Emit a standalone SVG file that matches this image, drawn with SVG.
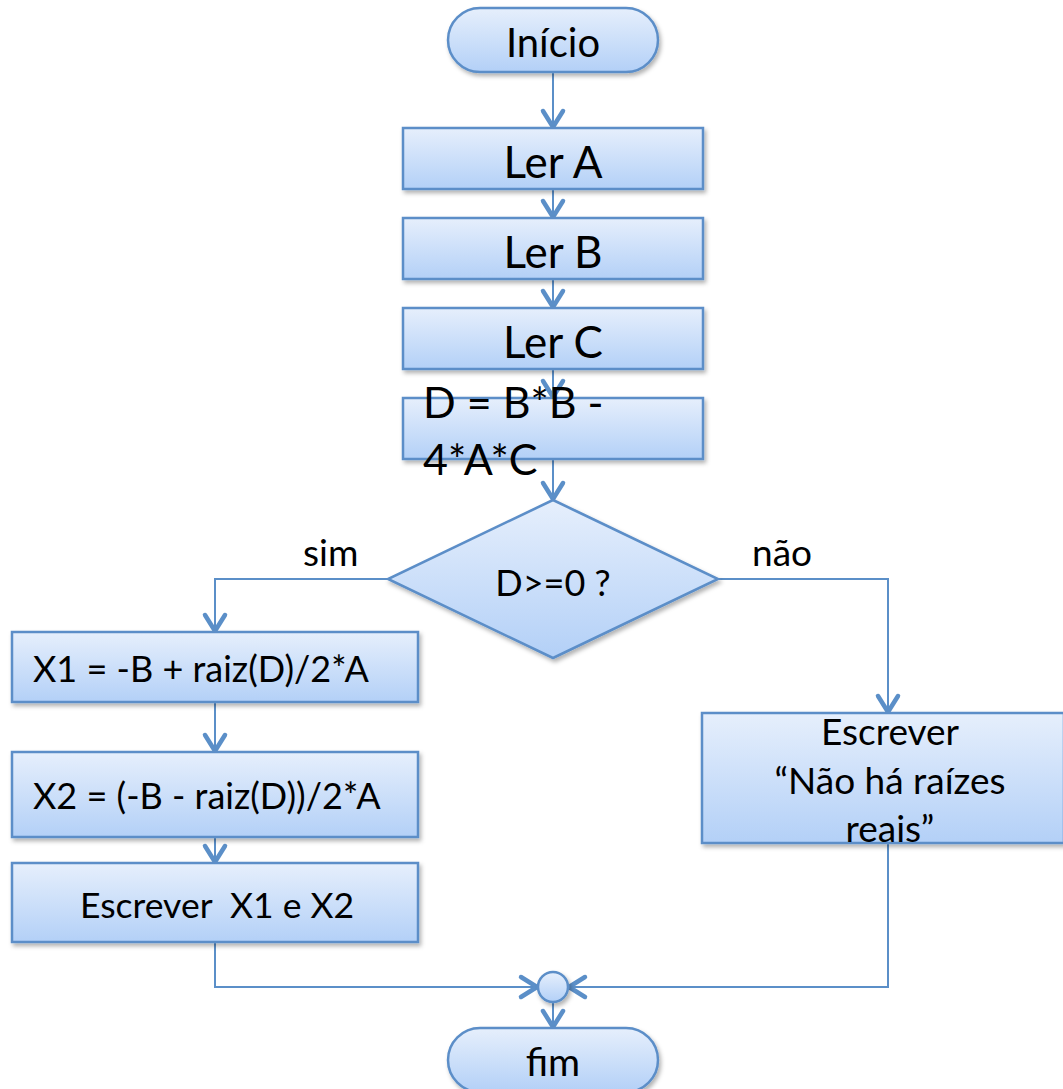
<svg xmlns="http://www.w3.org/2000/svg" width="1063" height="1089" viewBox="0 0 1063 1089">
<style>
.shape{fill:url(#g);stroke:#5b8ec8;stroke-width:2.5;filter:url(#sh)}
.t{font-family:Lato,"Open Sans","Liberation Sans",sans-serif;fill:#000}
.c{text-anchor:middle}
.conn{fill:none;stroke:#5b8fc8;stroke-width:2}
</style>
<defs>
<linearGradient id="g" x1="0" y1="0" x2="0" y2="1">
<stop offset="0" stop-color="#e6effc"/>
<stop offset="1" stop-color="#b3d0f7"/>
</linearGradient>
<filter id="sh" x="-10%" y="-10%" width="130%" height="140%">
<feDropShadow dx="2" dy="3" stdDeviation="2" flood-color="#000" flood-opacity="0.3"/>
</filter>
<marker id="ah" markerUnits="userSpaceOnUse" markerWidth="30" markerHeight="30" refX="0" refY="0" viewBox="-20 -15 25 30" orient="auto" overflow="visible">
<path d="M-17,-10 L-1,0 L-17,10" fill="none" stroke="#5b8fc8" stroke-width="4.5" stroke-linecap="round" stroke-linejoin="round"/>
</marker>
</defs>

<g id="connectors">
<path class="conn" d="M553,72 V128" marker-end="url(#ah)"/>
<path class="conn" d="M553,189 V218" marker-end="url(#ah)"/>
<path class="conn" d="M553,279 V308" marker-end="url(#ah)"/>
<path class="conn" d="M553,369 V398" marker-end="url(#ah)"/>
<path class="conn" d="M553,459 V500" marker-end="url(#ah)"/>
<path class="conn" d="M388,579 H215 V632" marker-end="url(#ah)"/>
<path class="conn" d="M718,579 H888 V713" marker-end="url(#ah)"/>
<path class="conn" d="M215,702 V752" marker-end="url(#ah)"/>
<path class="conn" d="M215,837 V863" marker-end="url(#ah)"/>
<path class="conn" d="M215,942 V987 H538" marker-end="url(#ah)"/>
<path class="conn" d="M888,843 V987 H568" marker-end="url(#ah)"/>
<path class="conn" d="M553,1002 V1028" marker-end="url(#ah)"/>
</g>

<g id="inicio">
<rect class="shape" x="448" y="8" width="210" height="64" rx="32"/>
<text class="t c" x="553" y="57" font-size="40">Início</text>
</g>
<g id="lerA">
<rect class="shape" x="403" y="128" width="300" height="61"/>
<text class="t c" x="553" y="178" font-size="44">Ler A</text>
</g>
<g id="lerB">
<rect class="shape" x="403" y="218" width="300" height="61"/>
<text class="t c" x="553" y="268" font-size="44">Ler B</text>
</g>
<g id="lerC">
<rect class="shape" x="403" y="308" width="300" height="61"/>
<text class="t c" x="553" y="358" font-size="44">Ler C</text>
</g>
<g id="calcD">
<rect class="shape" x="403" y="398" width="300" height="61"/>
<text class="t" x="423" y="418" font-size="43">D = B*B -</text>
<text class="t" x="423" y="475" font-size="43">4*A*C</text>
</g>
<g id="decisao">
<polygon class="shape" points="553,500 718,579 553,658 388,579"/>
<text class="t c" x="553" y="596" font-size="36">D&gt;=0 ?</text>
</g>
<g id="labels">
<text class="t" x="303" y="566" font-size="37">sim</text>
<text class="t" x="752" y="566" font-size="37">não</text>
</g>
<g id="x1">
<rect class="shape" x="12" y="632" width="406" height="70"/>
<text class="t" x="33" y="682" font-size="36">X1 = -B + raiz(D)/2*A</text>
</g>
<g id="x2">
<rect class="shape" x="12" y="752" width="406" height="85"/>
<text class="t" x="33" y="809" font-size="36">X2 = (-B - raiz(D))/2*A</text>
</g>
<g id="escreverX">
<rect class="shape" x="12" y="863" width="406" height="79"/>
<text class="t" x="80" y="918" font-size="35.5" xml:space="preserve">Escrever  X1 e X2</text>
</g>
<g id="escreverNao">
<rect class="shape" x="702" y="713" width="362" height="130"/>
<text class="t c" x="890" y="745" font-size="37">Escrever</text>
<text class="t c" x="890" y="794" font-size="37">“Não há raízes</text>
<text class="t c" x="890" y="842" font-size="37">reais”</text>
</g>
<g id="juncao">
<circle class="shape" cx="553" cy="987" r="15"/>
</g>
<g id="fim">
<rect class="shape" x="448" y="1028" width="210" height="64" rx="32"/>
<text class="t c" x="553" y="1076" font-size="39">fim</text>
</g>
</svg>
